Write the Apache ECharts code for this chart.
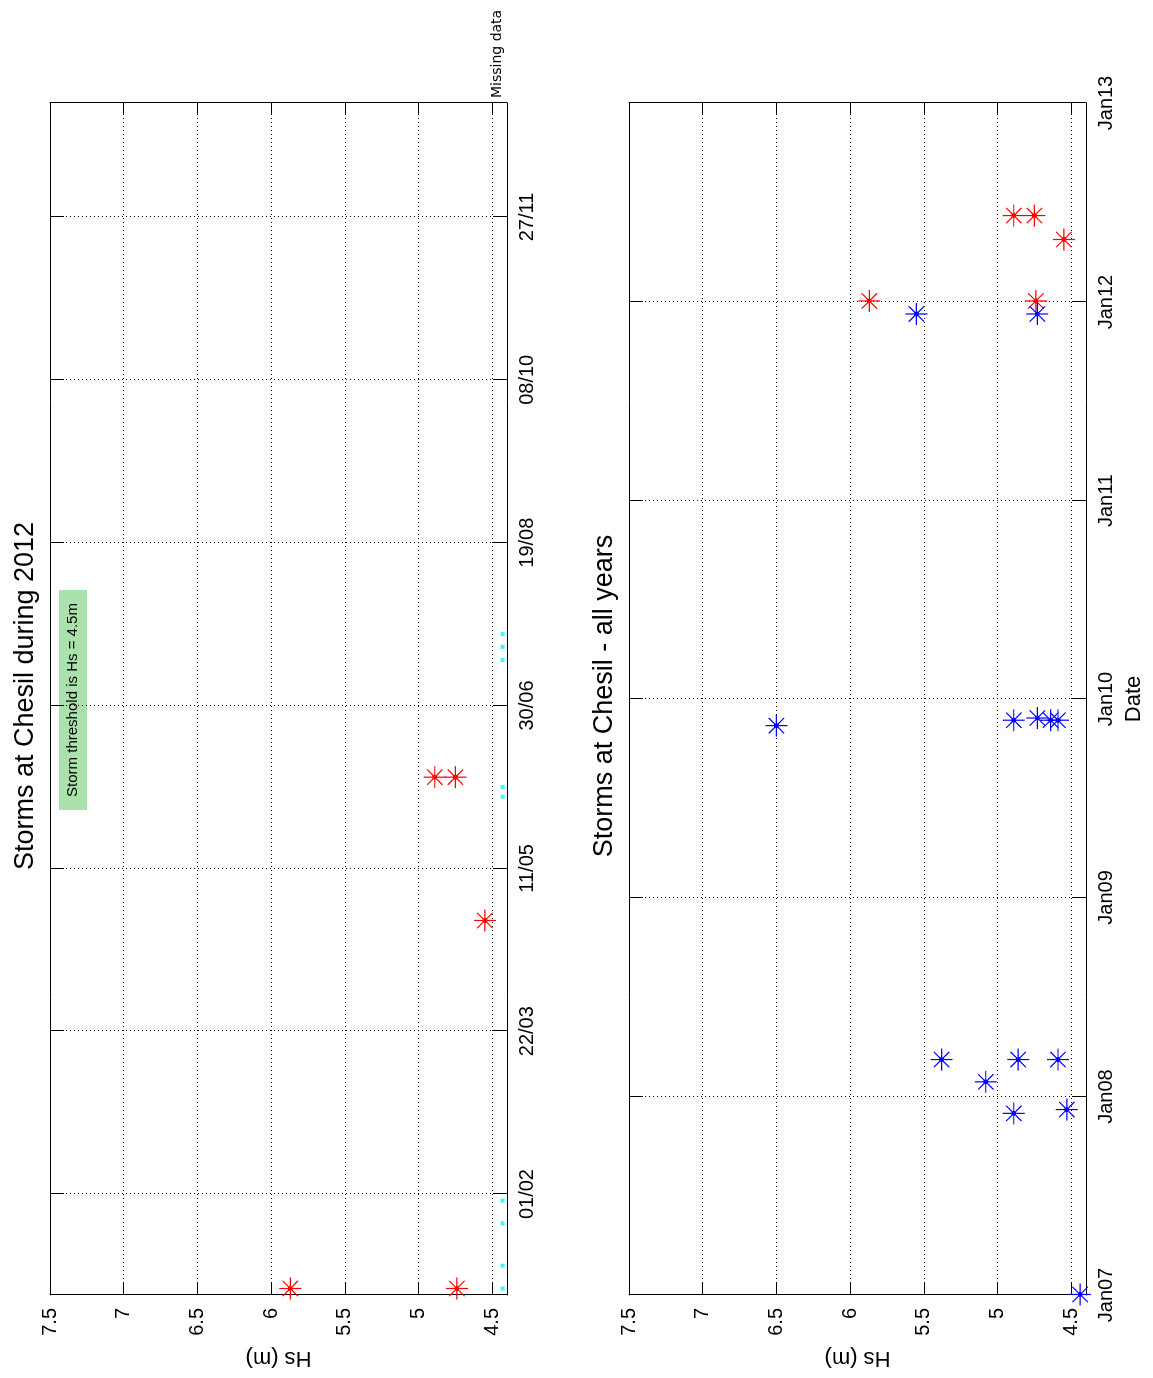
<!DOCTYPE html>
<html><head><meta charset="utf-8">
<script src="https://cdn.jsdelivr.net/npm/echarts@6/dist/echarts.min.js"></script>
<style>
html,body{margin:0;padding:0;width:1153px;height:1378px;overflow:hidden;background:#fff;}
#chart{position:absolute;left:0;top:0;width:1378px;height:1153px;transform-origin:0 0;transform:translate(0,1378px) rotate(-90deg);background:#fff;}
</style></head><body><div id="chart"></div>
<script>
// ---- data ----
const hsTicks = [4.5, 5, 5.5, 6, 6.5, 7, 7.5];
const tickDates2012 = ['2012-02-01','2012-03-22','2012-05-11','2012-06-30','2012-08-19','2012-10-08','2012-11-27'];
const tickLabels2012 = ['01/02','22/03','11/05','30/06','19/08','08/10','27/11'];
const tickDatesAll = ['2007-01-01','2008-01-01','2009-01-01','2010-01-01','2011-01-01','2012-01-01','2013-01-01'];
const tickLabelsAll = ['Jan07','Jan08','Jan09','Jan10','Jan11','Jan12','Jan13'];

const storm2012Dates = ['2012-01-03','2012-01-03','2012-04-25','2012-06-08','2012-06-08'];
const storm2012Hs    = [5.87, 4.74, 4.55, 4.89, 4.75];

const missing2012Dates = ['2012-01-03','2012-01-10','2012-01-23','2012-01-30','2012-06-02','2012-06-05','2012-07-14','2012-07-18','2012-07-22'];
const missing2012Hs    = [4.43, 4.43, 4.43, 4.43, 4.43, 4.43, 4.43, 4.43, 4.43];

const stormPastDates = ['2007-01-02','2007-12-01','2007-12-08','2008-01-28','2008-03-09','2008-03-09','2008-03-09',
                        '2009-11-13','2009-11-23','2009-11-27','2009-11-23','2009-11-23','2011-12-10','2011-12-10'];
const stormPastHs    = [4.44, 4.89, 4.53, 5.08, 5.38, 4.86, 4.59,
                        6.50, 4.89, 4.73, 4.64, 4.59, 5.55, 4.73];

// ---- helpers ----
const t = s => Date.parse(s);
const pairs = (d, v) => d.map((s, i) => [t(s), v[i]]);
const FONT = 'Liberation Sans';
const STAR = 'path://M0,10L20,10M10,0L10,20M3,3L17,17M17,3L3,17M11.7,10A1.7,1.7,0,1,1,8.3,10A1.7,1.7,0,1,1,11.7,10Z';

const ticks2012 = tickDates2012.map(t);
const ticksAll = tickDatesAll.map(t);

function dateAxis(grid, pos, min, max, ticks, labels, showLabel, split, name) {
  return {
    type: 'value', gridIndex: grid, position: pos, min: min, max: max,
    name: name || '', nameLocation: 'middle', nameGap: 37,
    nameTextStyle: {fontFamily: FONT, fontSize: 22, color: '#000'},
    axisLine: {show: true, onZero: false, lineStyle: {color: '#000', width: 1}},
    axisTick: {show: true, inside: true, length: 14, customValues: ticks, lineStyle: {color: '#000'}},
    axisLabel: {show: showLabel, customValues: ticks, margin: 10, fontFamily: FONT, fontSize: 20, color: '#000',
      formatter: v => { const i = ticks.indexOf(v); return i >= 0 ? labels[i] : ''; }},
    splitLine: {show: split, lineStyle: {color: '#000', width: 1, type: [1, 3]}}
  };
}
function hsAxis(grid, pos, showLabel, split, name) {
  return {
    type: 'value', gridIndex: grid, position: pos, min: 4.4, max: 7.5,
    name: name || '', nameLocation: 'middle', nameGap: 48, nameRotate: 90,
    nameTextStyle: {fontFamily: FONT, fontSize: 22, color: '#000'},
    axisLine: {show: true, onZero: false, lineStyle: {color: '#000', width: 1}},
    axisTick: {show: true, inside: true, length: 12, customValues: hsTicks, lineStyle: {color: '#000'}},
    axisLabel: {show: showLabel, customValues: hsTicks, margin: 13, fontFamily: FONT, fontSize: 20, color: '#000',
      formatter: v => String(v)},
    splitLine: {show: split, lineStyle: {color: '#000', width: 1, type: [1, 3]}}
  };
}
function starSeries(name, xi, data, color) {
  return {
    name: name, type: 'scatter', xAxisIndex: xi, yAxisIndex: xi, data: data, clip: false,
    symbol: STAR, symbolSize: 22,
    itemStyle: {color: color, borderColor: color, borderWidth: 1.2, opacity: 1},
    emphasis: {disabled: true}
  };
}

const y0 = t('2012-01-01'), y1 = t('2013-01-01');
const a0 = t('2007-01-01'), a1 = t('2013-01-01');

const option = {
  backgroundColor: '#fff',
  animation: false,
  title: [
    {text: 'Storms at Chesil during 2012', left: 677, top: 7, textAlign: 'center',
     textStyle: {fontFamily: FONT, fontSize: 27, fontWeight: 'normal', color: '#000'}},
    {text: 'Storms at Chesil - all years', left: 677, top: 586, textAlign: 'center',
     textStyle: {fontFamily: FONT, fontSize: 27, fontWeight: 'normal', color: '#000'}}
  ],
  grid: [
    {left: 83, top: 50, width: 1192, height: 457, containLabel: false},
    {left: 83, top: 629, width: 1192, height: 457, containLabel: false}
  ],
  xAxis: [
    dateAxis(0, 'bottom', y0, y1, ticks2012, tickLabels2012, true, true),
    dateAxis(0, 'top', y0, y1, ticks2012, tickLabels2012, false, false),
    dateAxis(1, 'bottom', a0, a1, ticksAll, tickLabelsAll, true, true, 'Date'),
    dateAxis(1, 'top', a0, a1, ticksAll, tickLabelsAll, false, false)
  ],
  yAxis: [
    hsAxis(0, 'left', true, true, 'Hs (m)'),
    hsAxis(0, 'right', false, false),
    hsAxis(1, 'left', true, true, 'Hs (m)'),
    hsAxis(1, 'right', false, false)
  ],
  series: [
    {name: 'Missing data', type: 'scatter', xAxisIndex: 0, yAxisIndex: 0,
     data: pairs(missing2012Dates, missing2012Hs), symbol: 'rect', symbolSize: 4,
     itemStyle: {color: '#00ffff'}, emphasis: {disabled: true}},
    starSeries('Storms 2012', 0, pairs(storm2012Dates, storm2012Hs), '#ff0000'),
    starSeries('Storms 2012 (all years)', 2, pairs(storm2012Dates, storm2012Hs), '#ff0000'),
    starSeries('Storms 2007-2011', 2, pairs(stormPastDates, stormPastHs), '#0000ff')
  ],
  graphic: [
    {type: 'rect', shape: {x: 568, y: 59, width: 220, height: 28}, style: {fill: '#abe2ab'}, silent: true},
    {type: 'text', x: 678, y: 73, style: {text: 'Storm threshold is Hs = 4.5m', font: '15px "Liberation Sans"',
      fill: '#000', align: 'center', verticalAlign: 'middle'}, silent: true},
    {type: 'text', x: 1280, y: 497, style: {text: 'Missing data', font: '14px "DejaVu Sans"',
      fill: '#000', align: 'left', verticalAlign: 'middle'}, silent: true}
  ]
};
const chart = echarts.init(document.getElementById('chart'), null, {renderer: 'canvas'});
chart.setOption(option);
</script></body></html>
